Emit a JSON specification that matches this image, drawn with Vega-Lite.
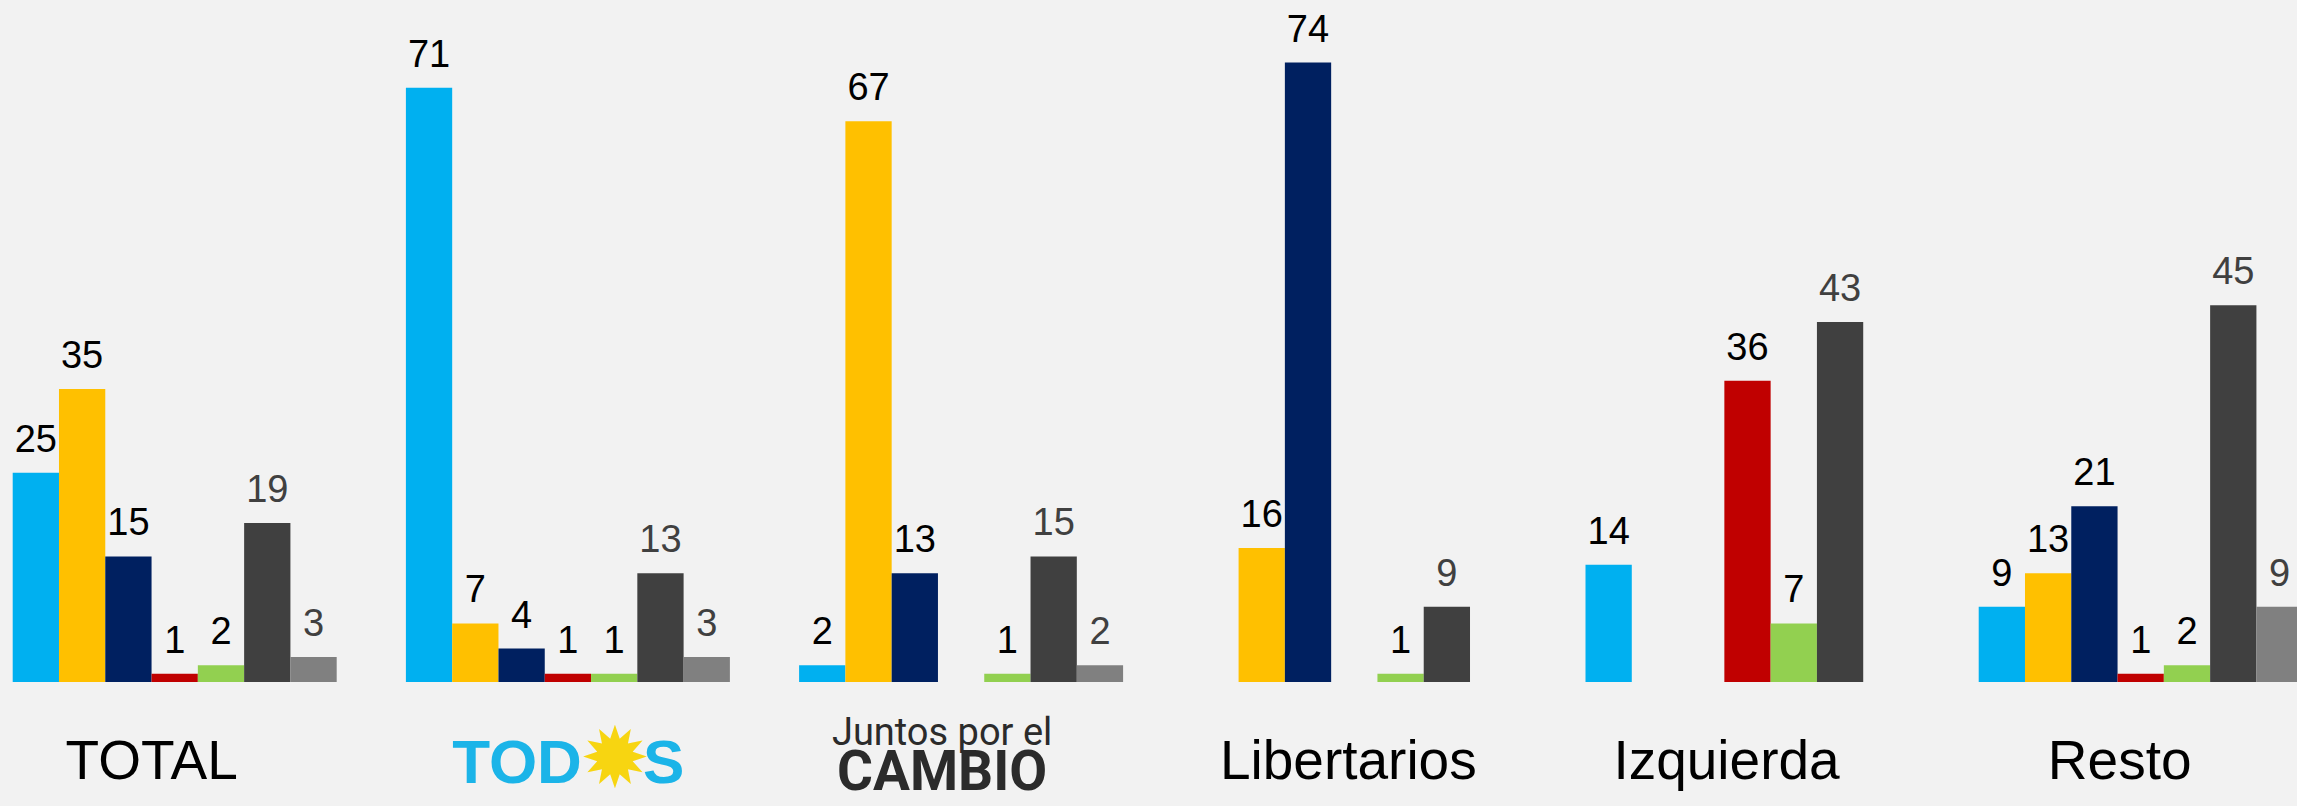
{
  "$schema": "https://vega.github.io/schema/vega-lite/v6.json",
  "width": 2297,
  "height": 682,
  "autosize": "none",
  "padding": {"left": 0, "top": 0, "right": 0, "bottom": 124},
  "background": "#F2F2F2",
  "config": {"view": {"stroke": null}, "font": "Liberation Sans"},
  "datasets": {
    "bars": [
      {"group": "TOTAL", "series": "Frente de Todos", "value": 25},
      {"group": "TOTAL", "series": "Juntos por el Cambio", "value": 35},
      {"group": "TOTAL", "series": "Libertarios", "value": 15},
      {"group": "TOTAL", "series": "Izquierda", "value": 1},
      {"group": "TOTAL", "series": "Otros", "value": 2},
      {"group": "TOTAL", "series": "Indecisos", "value": 19},
      {"group": "TOTAL", "series": "NS/NC", "value": 3},
      {"group": "TODOS", "series": "Frente de Todos", "value": 71},
      {"group": "TODOS", "series": "Juntos por el Cambio", "value": 7},
      {"group": "TODOS", "series": "Libertarios", "value": 4},
      {"group": "TODOS", "series": "Izquierda", "value": 1},
      {"group": "TODOS", "series": "Otros", "value": 1},
      {"group": "TODOS", "series": "Indecisos", "value": 13},
      {"group": "TODOS", "series": "NS/NC", "value": 3},
      {"group": "Juntos por el Cambio", "series": "Frente de Todos", "value": 2},
      {"group": "Juntos por el Cambio", "series": "Juntos por el Cambio", "value": 67},
      {"group": "Juntos por el Cambio", "series": "Libertarios", "value": 13},
      {"group": "Juntos por el Cambio", "series": "Otros", "value": 1},
      {"group": "Juntos por el Cambio", "series": "Indecisos", "value": 15},
      {"group": "Juntos por el Cambio", "series": "NS/NC", "value": 2},
      {"group": "Libertarios", "series": "Juntos por el Cambio", "value": 16},
      {"group": "Libertarios", "series": "Libertarios", "value": 74},
      {"group": "Libertarios", "series": "Otros", "value": 1},
      {"group": "Libertarios", "series": "Indecisos", "value": 9},
      {"group": "Izquierda", "series": "Frente de Todos", "value": 14},
      {"group": "Izquierda", "series": "Izquierda", "value": 36},
      {"group": "Izquierda", "series": "Otros", "value": 7},
      {"group": "Izquierda", "series": "Indecisos", "value": 43},
      {"group": "Resto", "series": "Frente de Todos", "value": 9},
      {"group": "Resto", "series": "Juntos por el Cambio", "value": 13},
      {"group": "Resto", "series": "Libertarios", "value": 21},
      {"group": "Resto", "series": "Izquierda", "value": 1},
      {"group": "Resto", "series": "Otros", "value": 2},
      {"group": "Resto", "series": "Indecisos", "value": 45},
      {"group": "Resto", "series": "NS/NC", "value": 9}
    ],
    "groups": [
      {"group": "TOTAL", "label": "TOTAL"},
      {"group": "TODOS", "label": "TODOS"},
      {"group": "Juntos por el Cambio", "label": "Juntos por el Cambio"},
      {"group": "Libertarios", "label": "Libertarios"},
      {"group": "Izquierda", "label": "Izquierda"},
      {"group": "Resto", "label": "Resto"}
    ]
  },
  "layer": [
    {
      "data": {"name": "bars"},
      "mark": {"type": "bar"},
      "encoding": {
        "x": {"field": "group", "type": "nominal", "axis": null,
          "scale": {"domain": ["TOTAL", "TODOS", "Juntos por el Cambio", "Libertarios", "Izquierda", "Resto"], "range": [12.7, 2302.7], "paddingInner": 0.176, "paddingOuter": 0}},
        "xOffset": {"field": "series", "type": "nominal",
          "scale": {"domain": ["Frente de Todos", "Juntos por el Cambio", "Libertarios", "Izquierda", "Otros", "Indecisos", "NS/NC"], "paddingInner": 0, "paddingOuter": 0}},
        "y": {"field": "value", "type": "quantitative", "axis": null,
          "scale": {"domain": [0, 81.48], "nice": false, "zero": true}},
        "color": {"field": "series", "type": "nominal", "legend": null,
          "scale": {"domain": ["Frente de Todos", "Juntos por el Cambio", "Libertarios", "Izquierda", "Otros", "Indecisos", "NS/NC"],
                    "range": ["#00B0F0", "#FFC000", "#002060", "#C00000", "#92D050", "#404040", "#808080"]}}
      }
    },
    {
      "data": {"name": "bars"},
      "mark": {"type": "text", "baseline": "alphabetic", "dy": -21, "fontSize": 38, "font": "Liberation Sans"},
      "encoding": {
        "x": {"field": "group", "type": "nominal", "axis": null,
          "scale": {"domain": ["TOTAL", "TODOS", "Juntos por el Cambio", "Libertarios", "Izquierda", "Resto"], "range": [12.7, 2302.7], "paddingInner": 0.176, "paddingOuter": 0}},
        "xOffset": {"field": "series", "type": "nominal",
          "scale": {"domain": ["Frente de Todos", "Juntos por el Cambio", "Libertarios", "Izquierda", "Otros", "Indecisos", "NS/NC"], "paddingInner": 0, "paddingOuter": 0}},
        "y": {"field": "value", "type": "quantitative", "axis": null,
          "scale": {"domain": [0, 81.48], "nice": false, "zero": true}},
        "text": {"field": "value", "type": "quantitative"},
        "color": {"condition": {"test": "datum.series === 'Indecisos' || datum.series === 'NS/NC'", "value": "#404040"}, "value": "#000000"}
      }
    },
    {
      "data": {"name": "groups"},
      "transform": [{"filter": "datum.group === 'TOTAL'"}],
      "mark": {"type": "text", "baseline": "alphabetic", "fontSize": 55, "font": "Liberation Sans", "color": "#000000", "dx": -23},
      "encoding": {
        "x": {"field": "group", "type": "nominal", "axis": null,
          "scale": {"domain": ["TOTAL", "TODOS", "Juntos por el Cambio", "Libertarios", "Izquierda", "Resto"], "range": [12.7, 2302.7], "paddingInner": 0.176, "paddingOuter": 0}},
        "y": {"datum": -11.59, "type": "quantitative", "scale": {"domain": [0, 81.48], "nice": false, "zero": true}},
        "text": {"field": "label"}
      }
    },
    {
      "data": {"name": "groups"},
      "transform": [{"filter": "datum.group === 'Libertarios'"}],
      "mark": {"type": "text", "baseline": "alphabetic", "fontSize": 55, "font": "Liberation Sans", "color": "#000000", "dx": -6},
      "encoding": {
        "x": {"field": "group", "type": "nominal", "axis": null,
          "scale": {"domain": ["TOTAL", "TODOS", "Juntos por el Cambio", "Libertarios", "Izquierda", "Resto"], "range": [12.7, 2302.7], "paddingInner": 0.176, "paddingOuter": 0}},
        "y": {"datum": -11.59, "type": "quantitative", "scale": {"domain": [0, 81.48], "nice": false, "zero": true}},
        "text": {"field": "label"}
      }
    },
    {
      "data": {"name": "groups"},
      "transform": [{"filter": "datum.group === 'Izquierda' || datum.group === 'Resto'"}],
      "mark": {"type": "text", "baseline": "alphabetic", "fontSize": 55, "font": "Liberation Sans", "color": "#000000", "dx": -21},
      "encoding": {
        "x": {"field": "group", "type": "nominal", "axis": null,
          "scale": {"domain": ["TOTAL", "TODOS", "Juntos por el Cambio", "Libertarios", "Izquierda", "Resto"], "range": [12.7, 2302.7], "paddingInner": 0.176, "paddingOuter": 0}},
        "y": {"datum": -11.59, "type": "quantitative", "scale": {"domain": [0, 81.48], "nice": false, "zero": true}},
        "text": {"field": "label"}
      }
    },
    {
      "data": {"name": "groups"},
      "transform": [{"filter": "datum.group === 'TODOS'"}],
      "mark": {"type": "text", "baseline": "alphabetic", "align": "right", "fontSize": 62, "fontWeight": "bold", "font": "Liberation Sans", "color": "#1BB4E8", "dx": 14, "dy": 4},
      "encoding": {
        "x": {"field": "group", "type": "nominal", "axis": null,
          "scale": {"domain": ["TOTAL", "TODOS", "Juntos por el Cambio", "Libertarios", "Izquierda", "Resto"], "range": [12.7, 2302.7], "paddingInner": 0.176, "paddingOuter": 0}},
        "y": {"datum": -11.59, "type": "quantitative", "scale": {"domain": [0, 81.48], "nice": false, "zero": true}},
        "text": {"value": "TOD"}
      }
    },
    {
      "data": {"name": "groups"},
      "transform": [{"filter": "datum.group === 'TODOS'"}],
      "mark": {"type": "text", "baseline": "middle", "align": "center", "fontSize": 84, "font": "DejaVu Sans", "color": "#F7D511", "dx": 47, "dy": -17},
      "encoding": {
        "x": {"field": "group", "type": "nominal", "axis": null,
          "scale": {"domain": ["TOTAL", "TODOS", "Juntos por el Cambio", "Libertarios", "Izquierda", "Resto"], "range": [12.7, 2302.7], "paddingInner": 0.176, "paddingOuter": 0}},
        "y": {"datum": -11.59, "type": "quantitative", "scale": {"domain": [0, 81.48], "nice": false, "zero": true}},
        "text": {"value": "✹"}
      }
    },
    {
      "data": {"name": "groups"},
      "transform": [{"filter": "datum.group === 'TODOS'"}],
      "mark": {"type": "text", "baseline": "alphabetic", "align": "left", "fontSize": 62, "fontWeight": "bold", "font": "Liberation Sans", "color": "#1BB4E8", "dx": 75, "dy": 4},
      "encoding": {
        "x": {"field": "group", "type": "nominal", "axis": null,
          "scale": {"domain": ["TOTAL", "TODOS", "Juntos por el Cambio", "Libertarios", "Izquierda", "Resto"], "range": [12.7, 2302.7], "paddingInner": 0.176, "paddingOuter": 0}},
        "y": {"datum": -11.59, "type": "quantitative", "scale": {"domain": [0, 81.48], "nice": false, "zero": true}},
        "text": {"value": "S"}
      }
    },
    {
      "data": {"name": "groups"},
      "transform": [{"filter": "datum.group === 'Juntos por el Cambio'"}],
      "mark": {"type": "text", "baseline": "alphabetic", "align": "center", "fontSize": 38, "font": "Roboto", "color": "#2B2B2B", "dx": -19, "dy": -34},
      "encoding": {
        "x": {"field": "group", "type": "nominal", "axis": null,
          "scale": {"domain": ["TOTAL", "TODOS", "Juntos por el Cambio", "Libertarios", "Izquierda", "Resto"], "range": [12.7, 2302.7], "paddingInner": 0.176, "paddingOuter": 0}},
        "y": {"datum": -11.59, "type": "quantitative", "scale": {"domain": [0, 81.48], "nice": false, "zero": true}},
        "text": {"value": "Juntos por el"}
      }
    },
    {
      "data": {"name": "groups"},
      "transform": [{"filter": "datum.group === 'Juntos por el Cambio'"}],
      "mark": {"type": "text", "baseline": "alphabetic", "align": "center", "fontSize": 55, "fontWeight": "bold", "font": "Roboto", "color": "#2B2B2B", "dx": -19, "dy": 11},
      "encoding": {
        "x": {"field": "group", "type": "nominal", "axis": null,
          "scale": {"domain": ["TOTAL", "TODOS", "Juntos por el Cambio", "Libertarios", "Izquierda", "Resto"], "range": [12.7, 2302.7], "paddingInner": 0.176, "paddingOuter": 0}},
        "y": {"datum": -11.59, "type": "quantitative", "scale": {"domain": [0, 81.48], "nice": false, "zero": true}},
        "text": {"value": "CAMBIO"}
      }
    }
  ]
}
